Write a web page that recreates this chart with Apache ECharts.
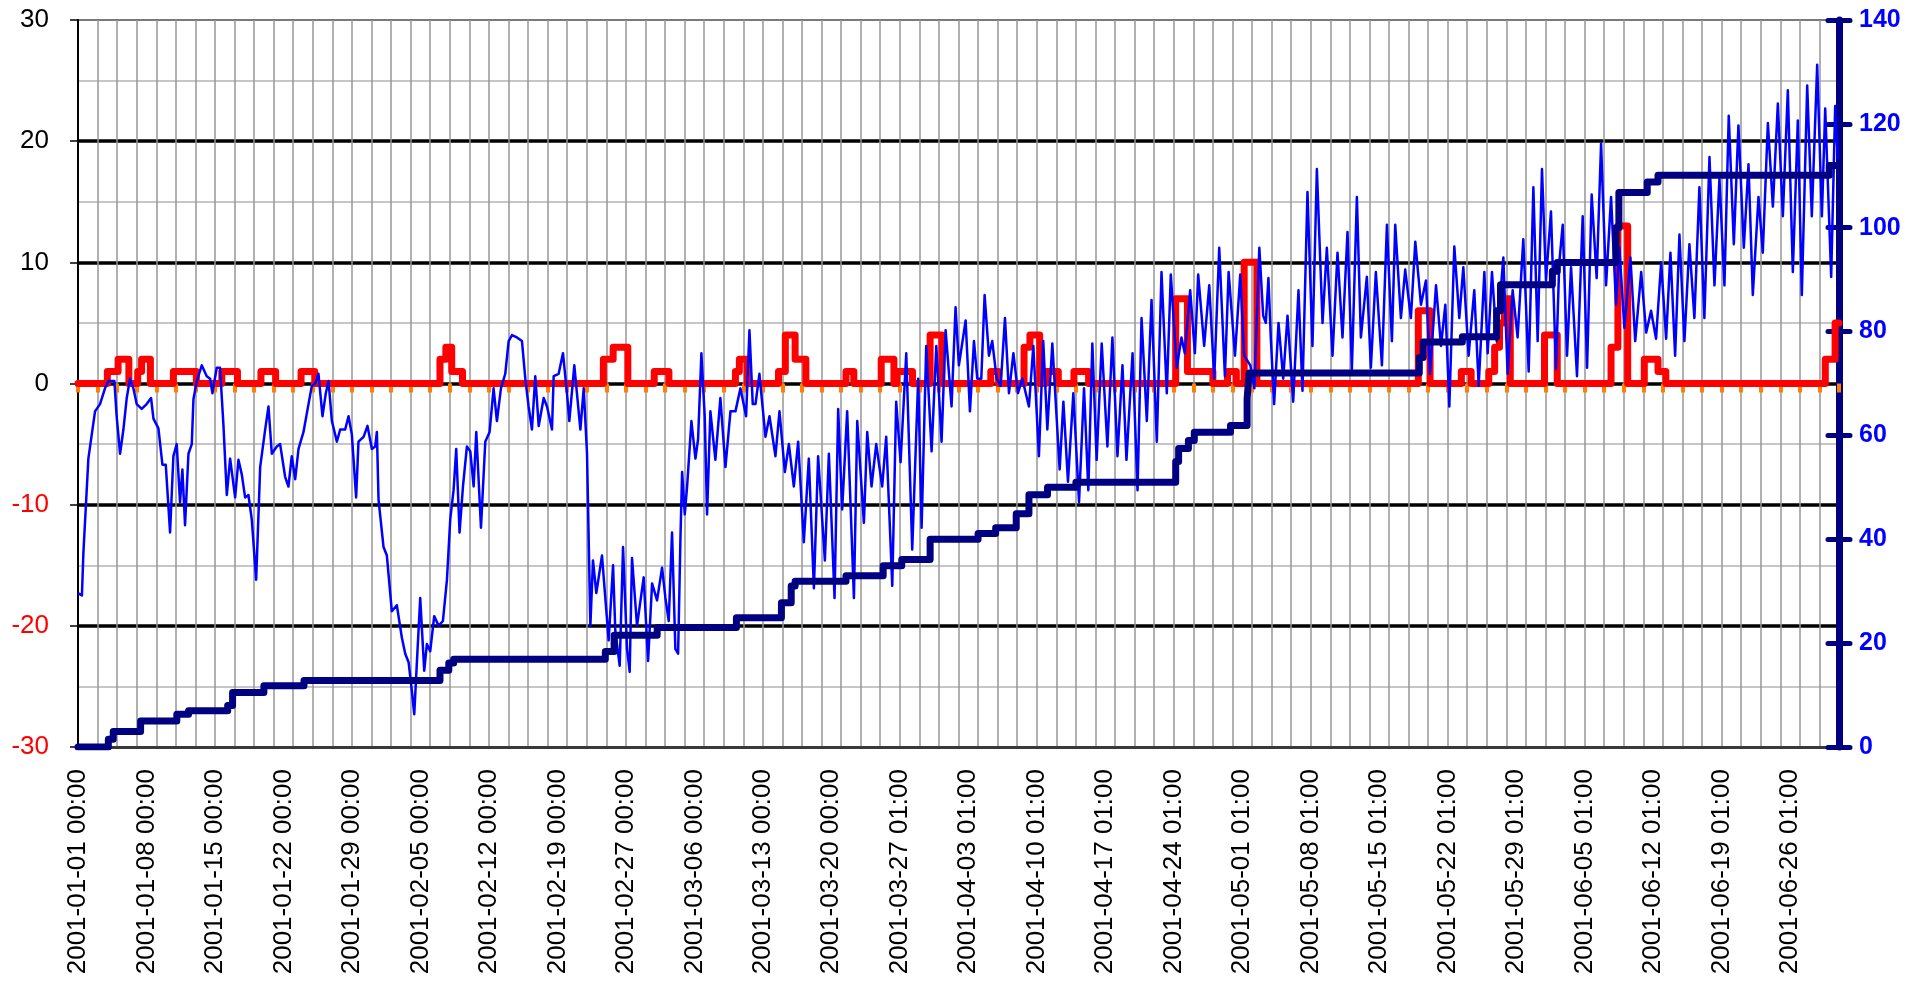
<!DOCTYPE html>
<html>
<head>
<meta charset="utf-8">
<title>chart</title>
<script src="https://cdn.jsdelivr.net/npm/echarts@6/dist/echarts.min.js"></script>
<style>
  html, body { margin: 0; padding: 0; background: #fff; }
  #main { width: 1930px; height: 984px; }
</style>
</head>
<body>
<div id="main"></div>
<script>
// week labels of the category axis (one every 7 days)
var tickLabels = [
  '2001-01-01 00:00', '2001-01-08 00:00', '2001-01-15 00:00', '2001-01-22 00:00', '2001-01-29 00:00',
  '2001-02-05 00:00', '2001-02-12 00:00', '2001-02-19 00:00', '2001-02-27 00:00',
  '2001-03-06 00:00', '2001-03-13 00:00', '2001-03-20 00:00', '2001-03-27 01:00',
  '2001-04-03 01:00', '2001-04-10 01:00', '2001-04-17 01:00', '2001-04-24 01:00',
  '2001-05-01 01:00', '2001-05-08 01:00', '2001-05-15 01:00', '2001-05-22 01:00', '2001-05-29 01:00',
  '2001-06-05 01:00', '2001-06-12 01:00', '2001-06-19 01:00', '2001-06-26 01:00'
]

// temperature, [day, value]
var tempPoints = [
  [0.0, -17.3], [0.4, -17.5], [0.55, -14], [1.06, -6.2], [1.74, -2.3], [2.25, -1.7], [2.76, -0.4], [3.1, 0.2],
  [3.72, 0.2], [3.95, -2.7], [4.3, -5.8], [4.64, -3.8], [4.98, -1.2], [5.32, 0.4], [5.66, -0.4], [6.0, -1.7],
  [6.51, -2.1], [7.02, -1.7], [7.47, -1.2], [7.71, -2.9], [8.22, -3.7], [8.63, -6.7], [8.97, -6.7], [9.41, -12.3],
  [9.75, -6], [10.09, -5], [10.43, -9.8], [10.67, -7.1], [10.94, -11.7], [11.29, -5.8], [11.63, -5], [11.8, -1.3],
  [12.14, 0.2], [12.65, 1.5], [13.16, 0.6], [13.5, 0.4], [13.74, -0.8], [14.18, 1.3], [14.52, 1.3], [14.87, -3.5],
  [15.21, -9.2], [15.55, -6.2], [16.06, -9.4], [16.4, -6.3], [16.74, -7.5], [17.08, -9.4], [17.42, -9.2], [17.76, -11.2],
  [18.21, -16.2], [18.62, -6.9], [19.13, -3.8], [19.47, -1.9], [19.81, -5.8], [20.32, -5.2], [20.66, -5], [21.17, -7.7],
  [21.51, -8.5], [21.85, -6], [22.2, -7.9], [22.54, -5.4], [23.05, -4], [23.56, -1.7], [23.9, -0.2], [24.24, 0],
  [24.58, 0.8], [24.99, -2.7], [25.33, -0.8], [25.61, 0.2], [25.95, -3.1], [26.46, -4.8], [26.8, -3.8], [27.31, -3.8],
  [27.65, -2.7], [27.99, -4.2], [28.43, -9.4], [28.67, -4.8], [29.19, -4.4], [29.59, -3.5], [30.04, -5.4],
  [30.38, -5.2], [30.55, -4], [30.72, -9.6], [31.23, -13.5], [31.57, -14.2], [32.08, -18.8], [32.59, -18.3], [33.11, -21],
  [33.45, -22.3], [33.79, -23], [34.13, -25.4], [34.37, -27.3], [34.64, -23], [34.98, -17.7], [35.39, -23.7], [35.66, -21.5],
  [36.0, -22.1], [36.41, -19.2], [36.86, -20], [37.3, -19.6], [37.71, -16.2], [38.05, -11.2], [38.39, -8.8], [38.66, -5.4],
  [39.0, -12.3], [39.35, -8.5], [39.75, -5.2], [40.1, -5.6], [40.44, -8.5], [40.71, -4], [41.19, -11.9], [41.63, -4.8],
  [42.07, -4], [42.48, -0.4], [42.82, -3.1], [43.23, -0.4], [43.67, 0.8], [44.02, 3.5], [44.36, 4], [44.87, 3.8],
  [45.38, 3.5], [45.72, 0.4], [46.06, -1.9], [46.4, -3.8], [46.74, 0.6], [47.09, -3.5], [47.6, -1.2], [47.94, -1.9],
  [48.45, -3.8], [48.62, 0.6], [49.13, 0.8], [49.57, 2.5], [49.98, -0.8], [50.22, -3.1], [50.73, 1.5], [51.35, -3.8],
  [51.69, -0.4], [52.03, -5.8], [52.37, -20], [52.64, -14.6], [52.98, -17.3], [53.56, -14.2], [54.24, -21.2], [54.69, -15],
  [54.92, -20.4], [55.37, -23.3], [55.71, -13.5], [56.12, -21.9], [56.39, -23.8], [56.63, -14.4], [57.14, -20], [57.82, -16],
  [58.27, -22.9], [58.68, -16.5], [59.19, -17.9], [59.7, -15.2],
  [60.04, -17.7], [60.38, -19.6], [60.72, -12.3], [61.06, -21.9], [61.34, -22.3], [61.58, -12.7], [61.75, -7.3], [62.02, -10.8],
  [62.26, -8.5], [62.7, -3.1], [63.11, -6.2], [63.38, -4.6], [63.72, 2.5], [64.06, -2.7], [64.3, -10.8], [64.64, -2.3],
  [65.15, -6.3], [65.66, -1.2], [66.18, -6.9], [66.69, -2.3], [67.2, -2.3], [67.71, -0.4], [68.29, -2.7], [68.63, 4.4],
  [68.97, -1.7], [69.25, -1.7], [69.65, 0.8], [70.27, -4.4], [70.68, -2.7], [71.29, -6], [71.7, -2.3], [72.25, -7.3],
  [72.66, -5], [73.17, -8.5], [73.61, -4.8], [74.19, -13.1], [74.7, -6.2], [75.22, -16.9], [75.65, -6], [76.34, -14.6],
  [76.75, -5.8], [77.33, -17.7], [77.7, -2.1], [78.11, -10.4], [78.62, -2.3], [79.31, -17.7], [79.65, -3.1], [80.33, -11.5],
  [80.67, -4], [81.11, -8.5], [81.59, -5], [82.2, -8.5], [82.61, -4.4], [83.23, -16.7], [83.63, -1.5], [84.08, -6.5],
  [84.66, 2.5], [85.27, -13.7], [85.61, -5.8], [85.88, 0.4], [86.23, -11.9], [86.7, 3.1], [87.25, -5.6], [87.73, 3.1],
  [88.27, -4.8], [88.68, 4.4], [89.29, -1.9], [89.7, 6.3], [90.04, 1.5],
  [90.73, 5.2], [91.17, -2.3], [91.58, 3.5], [91.92, 0.4], [92.33, 0.4], [92.67, 7.3], [93.11, 2.3], [93.45, 3.5],
  [93.9, 0.4], [94.31, -0.2], [94.75, 5.4], [95.16, -0.8], [95.61, 2.5], [96.08, -0.8], [96.52, 0.4], [97.2, -1.9],
  [97.65, 3.1], [98.22, -6], [98.66, 3.5], [99.08, -3.8], [99.59, 3.3], [100.34, -7.1], [100.72, -1.5], [101.19, -8.1],
  [101.74, -0.8], [102.32, -9.8], [102.83, -0.4], [103.27, -8.8], [103.68, 3.3], [104.12, -6.3], [104.64, 3.3], [105.22, -5.2],
  [105.73, 3.8], [106.25, -6], [106.76, 1.5], [107.17, -6.3], [107.79, 2.5], [108.3, -8.8], [108.71, 5.4], [109.25, -3.1],
  [109.73, 6.9], [110.27, -4.8], [110.75, 9.2], [111.29, -0.8], [111.7, 9], [112.31, 1.3], [112.79, 3.8], [113.13, 2.5],
  [113.68, 7.7], [114.16, 2.5], [114.5, 9], [115.11, 3.1], [115.63, 8.1], [116.14, 0.4], [116.65, 11.2], [117.23, 0.6],
  [117.61, 9.2], [118.26, 2.3], [118.8, 9], [119.2, 2.3], [119.83, 1.5], [120.24, -0.4], [120.75, 11.2],
  [121.14, 5.6], [121.41, 5], [121.68, 8.7], [121.92, 3.8], [122.26, -1.7], [122.71, 5], [123.19, 0.4], [123.63, 5.6],
  [124.21, -1.5], [124.75, 7.7], [125.16, -0.6], [125.67, 15.8], [126.18, 3.1], [126.63, 17.7], [127.21, 5], [127.65, 11.2],
  [128.23, 2.3], [128.74, 10.8], [129.25, 3.8], [129.76, 12.5], [130.21, 1.2], [130.72, 15.4], [131.13, 3.8], [131.74, 8.8],
  [132.15, 1.3], [132.66, 9.2], [133.28, 1.5], [133.79, 13.1], [134.3, 3.5], [134.64, 13.1], [135.22, 5.4], [135.66, 9.4],
  [136.24, 5.4], [136.69, 11.7], [137.27, 6.5], [137.78, 8.5], [138.19, 0.8], [138.81, 8.1], [139.32, 3.1], [139.76, 6.5],
  [140.17, -1.9], [140.68, 11.3], [141.19, 5.4], [141.6, 9.6], [142.14, 2.3], [142.72, 7.7], [143.17, -0.2], [143.75, 9.2],
  [144.09, 2.5], [144.53, 9.2], [145.01, 3.5], [145.69, 10.4], [146.13, 0.8], [146.64, 7.7], [147.15, 3.8], [147.73, 11.9],
  [148.28, 1], [148.76, 16.2], [149.2, 3.5], [149.64, 17.7], [150.05, 8.5], [150.56, 14.2],
  [151.07, 1.2], [151.41, 10], [151.76, 13.1], [152.2, 2.3], [152.61, 9.6], [153.22, 0.6], [153.8, 13.8], [154.25, 1.3],
  [154.72, 15.6], [155.23, 8.7], [155.68, 19.8], [156.19, 8.1], [156.7, 15.4], [157.21, 6.5], [157.55, 11.2], [158.06, 4.6],
  [158.68, 10.4], [159.17, 3.5], [159.78, 9.2], [160.29, 4.2], [160.79, 6], [161.3, 3.7], [161.82, 10], [162.33, 3.7],
  [162.77, 10.8], [163.25, 2.3], [163.69, 12.3], [164.2, 3.5], [164.71, 11.5], [165.22, 5.4], [165.73, 16.2], [166.24, 5.4],
  [166.76, 18.7], [167.27, 8.1], [167.78, 16.9], [168.29, 8.1], [168.73, 22.1], [169.25, 11.5], [169.72, 21.3], [170.27, 11.2],
  [170.75, 18.1], [171.19, 7.3], [171.77, 15.4], [172.21, 10.8], [172.73, 21.5], [173.24, 14.6], [173.75, 23.1], [174.26, 13.8],
  [174.77, 24.2], [175.28, 9.2], [175.79, 21.7], [176.2, 7.3], [176.75, 24.6], [177.22, 13.8], [177.77, 26.3], [178.25, 13.8],
  [178.59, 22.7], [179.2, 8.8], [179.61, 22.9], [179.88, 18.5]
]

// precipitation, [day where the value starts, value]
var precipSteps = [
  [0, 0], [3.0, 1], [4.1, 2], [5.2, 0], [6.1, 1], [6.5, 2], [7.4, 0], [9.75, 1], [12.1, 0], [14.7, 1], [16.3, 0],
  [18.7, 1], [20.2, 0], [22.8, 1], [24.2, 0], [37.0, 2], [37.6, 3], [38.2, 1], [39.3, 0], [53.7, 2], [54.7, 3],
  [56.2, 0], [58.9, 1], [60.4, 0], [67.2, 1], [67.6, 2], [68.4, 0], [71.6, 1], [72.3, 4], [73.3, 2], [74.4, 0],
  [78.5, 1], [79.3, 0], [82.1, 2], [83.4, 0], [83.7, 1], [85.3, 0], [87.1, 4], [88.3, 0], [93.3, 1], [94.1, 0],
  [96.7, 3], [97.3, 4], [98.3, 0], [98.9, 1], [100.2, 0], [101.8, 1], [103.3, 0], [112.2, 7], [113.4, 1], [116.0, 0],
  [117.5, 1], [118.4, 0], [119.2, 10], [120.5, 0], [137.0, 6], [138.2, 0], [141.4, 1], [142.4, 0], [144.2, 1],
  [144.8, 3], [145.3, 5], [145.8, 7], [146.4, 0], [149.9, 4], [151.2, 0], [156.7, 3], [157.4, 13], [158.4, 0],
  [160.1, 2], [161.5, 1], [162.3, 0], [178.6, 2], [179.6, 5], [180, 5]
]

// cumulative total (right axis), [day where the value starts, value]
var totalSteps = [
  [0, 0], [3.1, 1.5], [3.6, 3], [6.4, 5], [10.1, 6.3], [11.3, 7], [15.3, 8], [15.8, 10.5], [19.0, 11.8], [23.1, 12.8],
  [37.0, 14.8], [37.9, 16.2], [38.4, 16.9], [53.9, 18.4], [54.8, 21.5], [59.2, 23], [67.3, 24.9], [71.9, 27.8],
  [72.9, 31], [73.3, 31.9], [78.5, 33], [82.3, 34.9], [84.2, 36.1], [87.1, 40], [92.0, 41.1], [93.8, 42.2],
  [95.9, 44.9], [97.2, 48.6], [99.1, 50], [102, 51], [112.2, 55], [112.5, 57.5], [113.5, 59], [114.1, 60.6],
  [117.8, 61.9], [119.5, 67], [119.7, 72], [137.1, 75], [137.5, 78], [141.5, 79], [145.0, 84], [145.4, 89],
  [150.7, 91.6], [151.2, 93.3], [157.2, 100], [157.5, 106.8], [160.4, 108.8], [161.5, 110.1], [179.0, 112], [180, 112]
]

var font = "'Liberation Sans', Arial, sans-serif"

var myChart = echarts.init(document.getElementById('main'))
var option = {
  animation: false,
  backgroundColor: '#fff',
  grid: {
    left: 78,
    right: 91,
    top: 20,
    bottom: 237,
    show: true,
    borderColor: '#7a7a7a',
    borderWidth: 2
  },
  xAxis: [
    {
      // 2-day grid lines and bottom border
      type: 'value',
      min: 0,
      max: 180,
      interval: 2,
      position: 'bottom',
      axisLine: { onZero: false, lineStyle: { color: '#3a3a3a', width: 3 } },
      axisTick: { show: false },
      axisLabel: { show: false },
      splitLine: { show: true, lineStyle: { color: '#969696', width: 1.5 } }
    },
    {
      // axis crossing at 0, only its ticks are visible
      type: 'value',
      min: 0,
      max: 180,
      interval: 2,
      position: 'bottom',
      axisLine: { onZero: true, onZeroAxisIndex: 0, lineStyle: { color: 'rgba(0,0,0,0)' } },
      axisTick: { show: true, length: 9, lineStyle: { color: '#ff7f00', width: 4 } },
      axisLabel: { show: false },
      splitLine: { show: false }
    },
    {
      // weekly labels
      type: 'value',
      min: 0,
      max: 180,
      interval: 7,
      position: 'bottom',
      axisLine: { show: false, onZero: false },
      axisTick: { show: false },
      axisLabel: {
        rotate: 90,
        margin: 22,
        color: '#000',
        fontSize: 26,
        fontFamily: font,
        showMaxLabel: false,
        formatter: function (v) { return v % 7 === 0 ? (tickLabels[v / 7] || '') : '' }
      },
      splitLine: { show: false }
    }
  ],
  yAxis: [
    {
      type: 'value',
      min: -30,
      max: 30,
      interval: 10,
      position: 'left',
      axisLine: { show: true, onZero: false, lineStyle: { color: '#000', width: 2 } },
      axisTick: { show: true, length: 8, lineStyle: { color: '#000', width: 1.5 } },
      axisLabel: {
        margin: 29,
        fontSize: 26,
        fontFamily: font,
        color: function (v) { return Number(v) < 0 ? '#ff0000' : '#000000' }
      },
      splitLine: { show: true, showMinLine: false, showMaxLine: false, lineStyle: { color: '#000', width: 3.5 } },
      minorTick: { show: false, splitNumber: 2 },
      minorSplitLine: { show: true, lineStyle: { color: '#b4b4b4', width: 1.5 } }
    },
    {
      type: 'value',
      min: 0,
      max: 140,
      interval: 20,
      position: 'right',
      axisLine: { show: true, onZero: false, lineStyle: { color: '#000080', width: 7 } },
      axisTick: { show: true, length: 11, lineStyle: { color: '#000080', width: 5, cap: 'round' } },
      axisLabel: {
        margin: 20,
        fontSize: 25,
        fontWeight: 'bold',
        fontFamily: font,
        color: '#0000ff'
      },
      splitLine: { show: false }
    },
    {
      // inner half of the right axis ticks
      type: 'value',
      min: 0,
      max: 140,
      interval: 20,
      position: 'right',
      axisLine: { show: false, onZero: false },
      axisTick: { show: true, inside: true, length: 11, lineStyle: { color: '#000080', width: 5, cap: 'round' } },
      axisLabel: { show: false },
      splitLine: { show: false }
    }
  ],
  series: [
    {
      name: 'precip',
      type: 'line',
      xAxisIndex: 0,
      yAxisIndex: 0,
      step: 'end',
      showSymbol: false,
      lineStyle: { color: '#ff0000', width: 7, join: 'round', cap: 'round' },
      data: precipSteps
    },
    {
      name: 'temp',
      type: 'line',
      xAxisIndex: 0,
      yAxisIndex: 0,
      showSymbol: false,
      lineStyle: { color: '#0000ff', width: 2.5, join: 'round' },
      data: tempPoints
    },
    {
      name: 'total',
      type: 'line',
      xAxisIndex: 0,
      yAxisIndex: 1,
      step: 'end',
      showSymbol: false,
      lineStyle: { color: '#000080', width: 7, join: 'round', cap: 'round' },
      data: totalSteps
    }
  ]
}
myChart.setOption(option)
window.addEventListener('resize', function () {
  myChart.resize()
})
</script>
</body>
</html>
